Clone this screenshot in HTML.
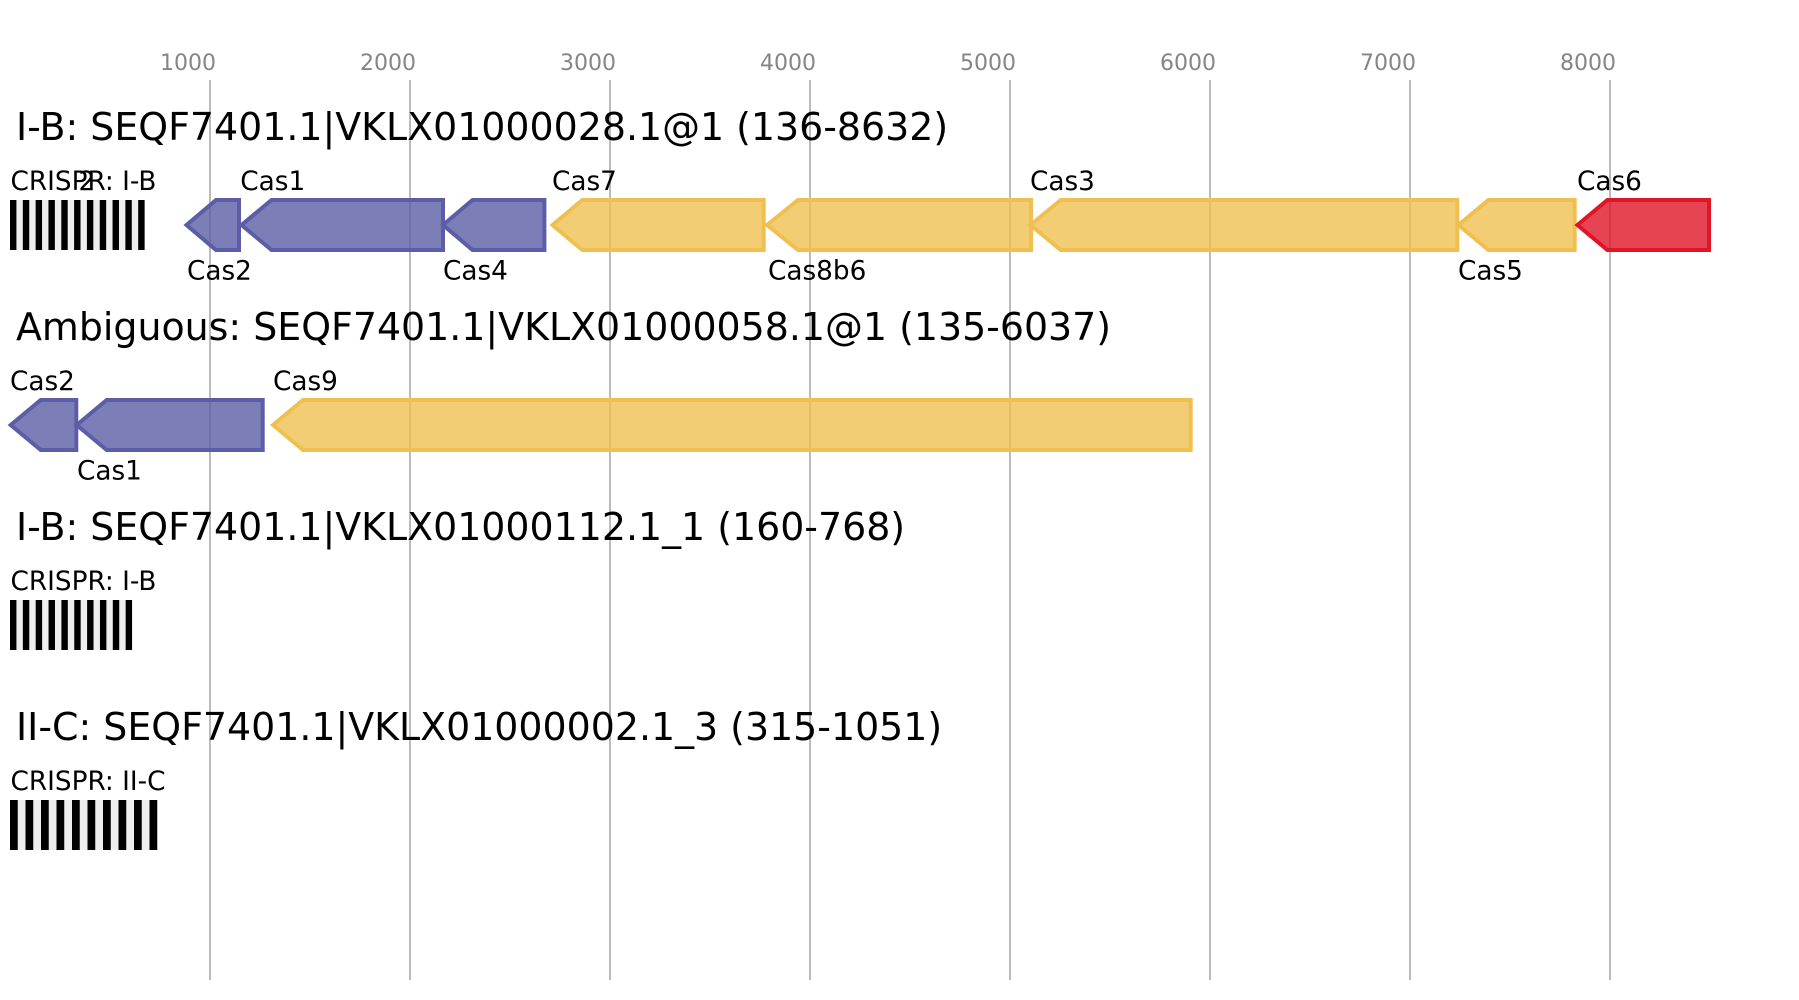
<!DOCTYPE html>
<html><head><meta charset="utf-8"><title>Cas operons</title>
<style>html,body{margin:0;padding:0;background:#fff}svg{display:block}
text{font-family:"DejaVu Sans",sans-serif;fill:#000}
.t{font-size:37.9px}.l{font-size:26.3px}.k{font-size:22px;fill:#858585}
.p{fill:#5b5ea6;stroke:#5b5ea6}.y{fill:#efc050;stroke:#efc050}.r{fill:#e01528;stroke:#e01528}
polygon{fill-opacity:.8;stroke-width:4;stroke-linejoin:miter;stroke-miterlimit:10}
</style></head><body>
<svg width="1799" height="1000" viewBox="0 0 1799 1000" xmlns="http://www.w3.org/2000/svg">
<rect width="1799" height="1000" fill="#fff"/>
<g stroke="#bbb" stroke-width="2"><line x1="210" y1="80" x2="210" y2="980"/><line x1="410" y1="80" x2="410" y2="980"/><line x1="610" y1="80" x2="610" y2="980"/><line x1="810" y1="80" x2="810" y2="980"/><line x1="1010" y1="80" x2="1010" y2="980"/><line x1="1210" y1="80" x2="1210" y2="980"/><line x1="1410" y1="80" x2="1410" y2="980"/><line x1="1610" y1="80" x2="1610" y2="980"/></g>
<text class="k" x="160" y="70">1000</text><text class="k" x="360" y="70">2000</text><text class="k" x="560" y="70">3000</text><text class="k" x="760" y="70">4000</text><text class="k" x="960" y="70">5000</text><text class="k" x="1160" y="70">6000</text><text class="k" x="1360" y="70">7000</text><text class="k" x="1560" y="70">8000</text>
<text class="t" x="16" y="140">I-B: SEQF7401.1|VKLX01000028.1@1 (136-8632)</text>
<text class="t" x="16" y="340">Ambiguous: SEQF7401.1|VKLX01000058.1@1 (135-6037)</text>
<text class="t" x="16" y="540">I-B: SEQF7401.1|VKLX01000112.1_1 (160-768)</text>
<text class="t" x="16" y="740">II-C: SEQF7401.1|VKLX01000002.1_3 (315-1051)</text>

<rect x="10" y="200" width="134.7" height="50" fill="#eee"/>
<g fill="#000"><rect x="10" y="200" width="6.41" height="50"/><rect x="22.82" y="200" width="6.41" height="50"/><rect x="35.64" y="200" width="6.41" height="50"/><rect x="48.46" y="200" width="6.41" height="50"/><rect x="61.28" y="200" width="6.41" height="50"/><rect x="74.1" y="200" width="6.41" height="50"/><rect x="86.92" y="200" width="6.41" height="50"/><rect x="99.74" y="200" width="6.41" height="50"/><rect x="112.56" y="200" width="6.41" height="50"/><rect x="125.38" y="200" width="6.41" height="50"/><rect x="138.2" y="200" width="6.41" height="50"/></g>
<text class="l" x="10.5" y="190">CRISPR: I-B</text>
<text class="l" x="78.5" y="190">2</text>
<text class="l" x="187" y="279.5">Cas2</text>
<text class="l" x="240.3" y="190">Cas1</text>
<text class="l" x="443" y="279.5">Cas4</text>
<text class="l" x="552" y="190">Cas7</text>
<text class="l" x="768" y="279.5">Cas8b6</text>
<text class="l" x="1030" y="190">Cas3</text>
<text class="l" x="1458" y="279.5">Cas5</text>
<text class="l" x="1577" y="190">Cas6</text>
<polygon class="p" points="186.5,225 216,200 239,200 239,250 216,250"/>
<polygon class="p" points="241.5,225 271.5,200 443,200 443,250 271.5,250"/>
<polygon class="p" points="443,225 472.5,200 544.4,200 544.4,250 472.5,250"/>
<polygon class="y" points="552.5,225 582.3,200 763.7,200 763.7,250 582.3,250"/>
<polygon class="y" points="767,225 798,200 1031,200 1031,250 798,250"/>
<polygon class="y" points="1030.5,225 1060.7,200 1457.3,200 1457.3,250 1060.7,250"/>
<polygon class="y" points="1458.4,225 1488.4,200 1574.7,200 1574.7,250 1488.4,250"/>
<polygon class="r" points="1577.4,225 1607.4,200 1709,200 1709,250 1607.4,250"/>

<text class="l" x="10" y="390">Cas2</text>
<text class="l" x="77" y="479.5">Cas1</text>
<text class="l" x="273" y="390">Cas9</text>
<polygon class="p" points="10.7,425 40.7,400 76.3,400 76.3,450 40.7,450"/>
<polygon class="p" points="76.7,425 106.7,400 262.7,400 262.7,450 106.7,450"/>
<polygon class="y" points="273,425 303,400 1190.7,400 1190.7,450 303,450"/>

<text class="l" x="10.5" y="590">CRISPR: I-B</text>
<rect x="10" y="600" width="122" height="50" fill="#eee"/>
<g fill="#000"><rect x="10" y="600" width="6.42" height="50"/><rect x="22.85" y="600" width="6.42" height="50"/><rect x="35.7" y="600" width="6.42" height="50"/><rect x="48.55" y="600" width="6.42" height="50"/><rect x="61.4" y="600" width="6.42" height="50"/><rect x="74.25" y="600" width="6.42" height="50"/><rect x="87.1" y="600" width="6.42" height="50"/><rect x="99.95" y="600" width="6.42" height="50"/><rect x="112.8" y="600" width="6.42" height="50"/><rect x="125.65" y="600" width="6.42" height="50"/></g>

<text class="l" x="10.5" y="790">CRISPR: II-C</text>
<rect x="10" y="800" width="147.3" height="50" fill="#eee"/>
<g fill="#000"><rect x="10" y="800" width="7.75" height="50"/><rect x="25.5" y="800" width="7.75" height="50"/><rect x="41" y="800" width="7.75" height="50"/><rect x="56.5" y="800" width="7.75" height="50"/><rect x="72" y="800" width="7.75" height="50"/><rect x="87.5" y="800" width="7.75" height="50"/><rect x="103" y="800" width="7.75" height="50"/><rect x="118.5" y="800" width="7.75" height="50"/><rect x="134" y="800" width="7.75" height="50"/><rect x="149.5" y="800" width="7.75" height="50"/></g>
</svg>
</body></html>
